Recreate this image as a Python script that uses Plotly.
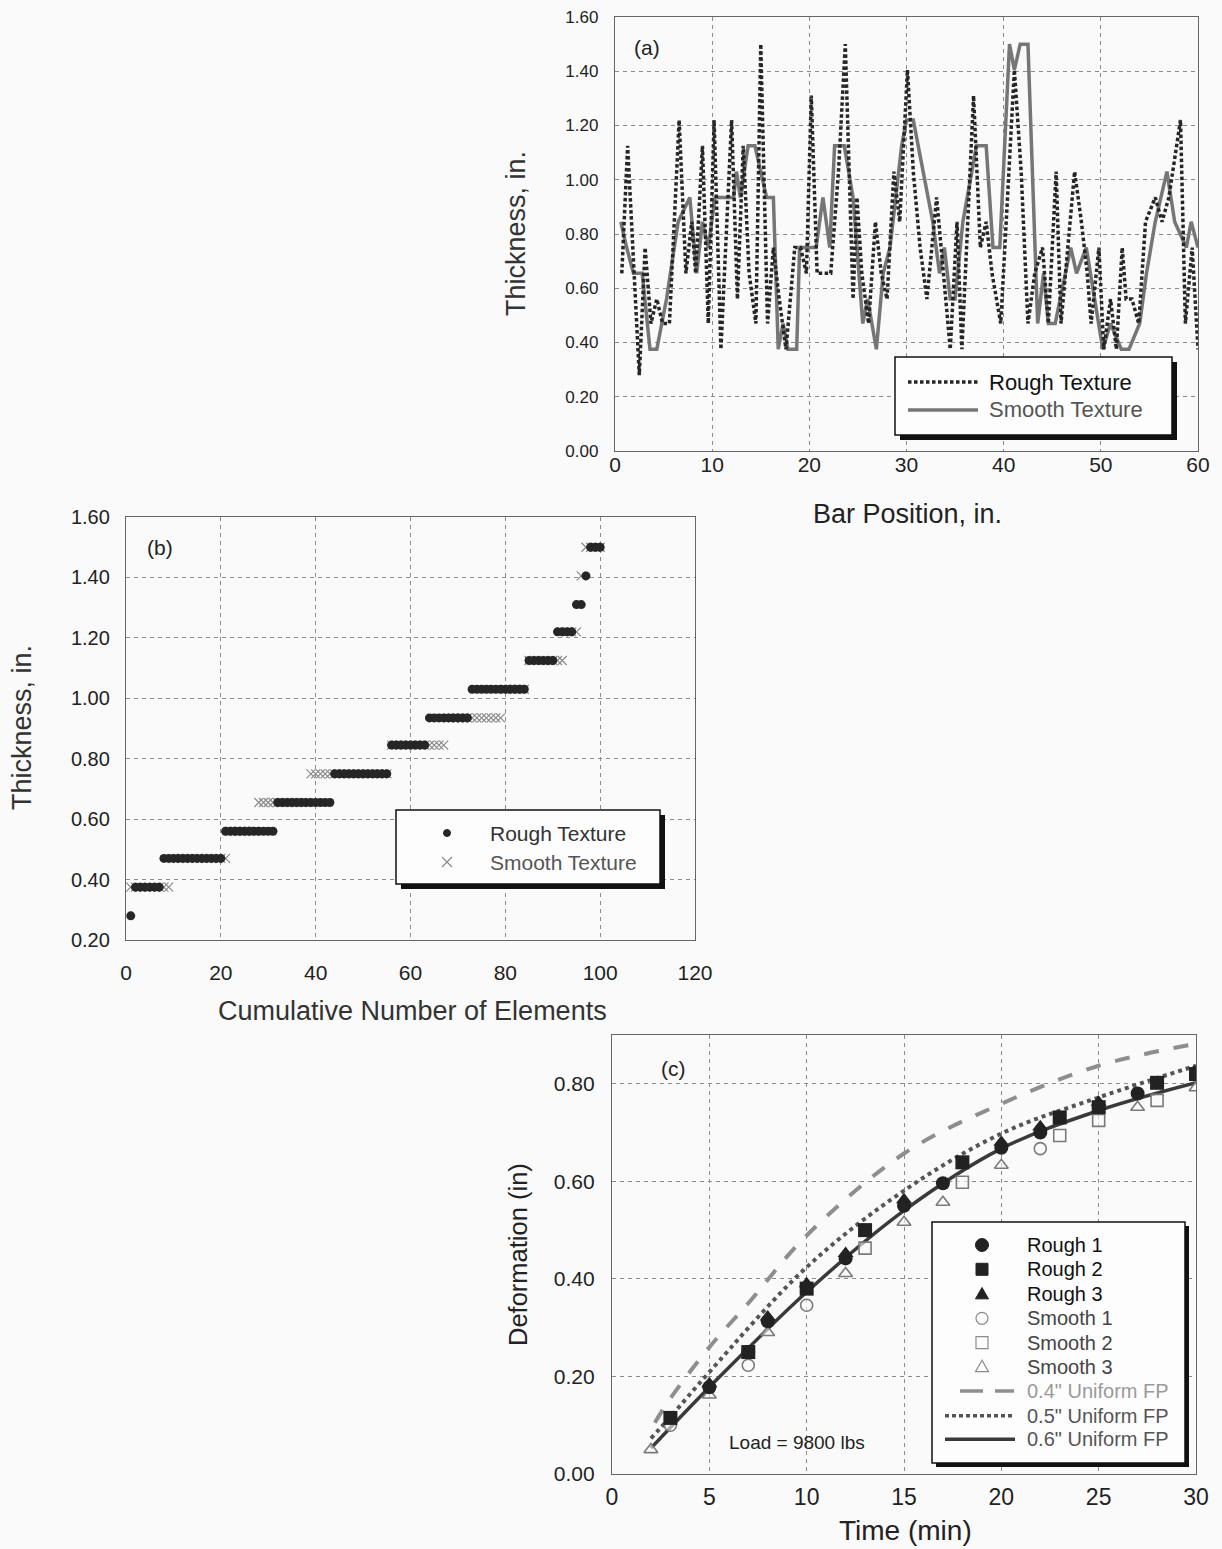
import plotly.graph_objects as go

W, H = 1222, 1549
FONT = "Liberation Sans, Arial, sans-serif"

# ---------------- (a) thickness along the bar ----------------
rough_pos = [0.7, 1.3, 2.5, 3.1, 3.7, 4.3, 4.9, 5.6, 6.6, 7.3, 7.9, 8.3, 9.0, 9.6, 10.2, 10.9,
             12.0, 12.6, 13.2, 13.8, 14.5, 15.0, 15.7, 16.3, 16.9, 17.6, 18.5, 19.1, 19.7, 20.2,
             20.8, 22.2, 23.0, 23.7, 24.5, 24.9, 25.4, 26.1, 26.8, 27.4, 28.0, 28.7, 29.3, 30.1,
             30.7, 31.4, 32.1, 33.1, 33.8, 34.5, 35.2, 35.7, 36.9, 37.6, 38.2, 38.8, 39.7, 40.4,
             41.1, 41.8, 42.5, 43.2, 44.0, 44.6, 45.4, 45.9, 46.6, 47.3, 48.0, 48.6, 49.0, 49.8,
             50.3, 51.0, 51.6, 52.2, 52.6, 53.2, 53.9, 54.6, 55.6, 56.3, 57.0, 58.2, 58.7, 59.4, 60.0]
rough_thk = [0.655, 1.125, 0.28, 0.75, 0.47, 0.56, 0.47, 0.47, 1.22, 0.655, 0.845, 0.655, 1.125,
             0.47, 1.22, 0.375, 1.22, 0.56, 1.125, 0.655, 0.47, 1.50, 0.47, 0.75, 0.56, 0.375,
             0.75, 0.75, 0.655, 1.31, 0.655, 0.655, 1.03, 1.50, 0.56, 0.935, 0.655, 0.47, 0.845,
             0.655, 0.56, 1.03, 0.845, 1.405, 1.03, 0.75, 0.56, 0.935, 0.655, 0.375, 0.845, 0.375,
             1.31, 0.75, 0.845, 0.655, 0.47, 0.935, 1.405, 1.03, 0.47, 0.655, 0.75, 0.47, 1.03,
             0.47, 0.75, 1.03, 0.845, 0.655, 0.47, 0.75, 0.375, 0.56, 0.375, 0.75, 0.56, 0.56,
             0.47, 0.845, 0.935, 0.845, 0.935, 1.22, 0.47, 0.75, 0.375]

smooth_pos = [0.6, 1.2, 1.9, 2.8, 3.6, 4.3, 5.3, 6.5, 7.7, 8.4, 9.0, 9.6, 10.3, 12.2, 12.5, 12.9,
              13.7, 14.4, 15.6, 16.3, 16.8, 17.3, 17.8, 18.7, 19.0, 20.7, 21.4, 22.1, 22.6, 23.6,
              24.5, 25.5, 26.0, 26.9, 27.6, 28.3, 29.5, 30.0, 30.7, 31.7, 32.7, 33.4, 33.9, 34.5,
              35.0, 35.8, 37.2, 38.2, 38.9, 39.6, 40.6, 41.1, 41.7, 42.5, 43.5, 44.1, 44.6, 45.3,
              46.3, 46.9, 47.5, 48.5, 50.2, 51.0, 52.1, 52.9, 54.0, 54.7, 55.6, 56.8, 57.6, 58.8,
              59.3, 60.0]
smooth_thk = [0.845, 0.75, 0.655, 0.655, 0.375, 0.375, 0.56, 0.845, 0.935, 0.655, 0.845, 0.75,
              0.935, 0.935, 1.03, 0.935, 1.125, 1.125, 0.935, 0.935, 0.375, 0.47, 0.375, 0.375,
              0.75, 0.75, 0.935, 0.75, 1.125, 1.125, 0.935, 0.47, 0.56, 0.375, 0.655, 0.75, 1.125,
              1.22, 1.22, 1.03, 0.845, 0.655, 0.75, 0.56, 0.56, 0.845, 1.125, 1.125, 0.75, 0.75,
              1.50, 1.405, 1.50, 1.50, 0.47, 0.655, 0.47, 0.47, 0.655, 0.75, 0.655, 0.75, 0.375,
              0.47, 0.375, 0.375, 0.47, 0.655, 0.845, 1.03, 0.845, 0.75, 0.845, 0.75]

# ---------------- (b) sorted element thickness ----------------
levels = [0.28, 0.375, 0.47, 0.56, 0.655, 0.75, 0.845, 0.935, 1.03, 1.125, 1.22, 1.31, 1.405, 1.50]
rough_counts = [1, 6, 13, 11, 12, 12, 8, 9, 12, 6, 4, 2, 1, 3]
smooth_counts = [0, 9, 12, 6, 11, 17, 12, 12, 5, 8, 3, 0, 1, 4]

# ---------------- (c) deformation vs time ----------------
rough1_t = [5, 7, 8, 12, 15, 17, 20, 22, 27, 30]
rough1_d = [0.178, 0.25, 0.313, 0.442, 0.55, 0.596, 0.669, 0.70, 0.78, 0.823]
rough2_t = [3, 7, 10, 13, 18, 23, 25, 28, 30]
rough2_d = [0.115, 0.25, 0.38, 0.50, 0.639, 0.731, 0.752, 0.802, 0.82]
rough3_t = [5, 8, 10, 12, 15, 20, 22, 25]
rough3_d = [0.185, 0.322, 0.39, 0.452, 0.562, 0.68, 0.712, 0.762]
smooth1_t = [3, 7, 10, 22]
smooth1_d = [0.10, 0.223, 0.346, 0.667]
smooth2_t = [13, 18, 23, 25, 28]
smooth2_d = [0.463, 0.598, 0.694, 0.725, 0.766]
smooth3_t = [2, 5, 8, 12, 15, 17, 20, 27, 30]
smooth3_d = [0.05, 0.162, 0.29, 0.411, 0.516, 0.557, 0.633, 0.752, 0.792]

fp04_t = [2.2, 3, 5, 7, 10, 15, 20, 25, 30]
fp04_d = [0.105, 0.155, 0.26, 0.35, 0.489, 0.657, 0.759, 0.837, 0.882]
fp05_t = [2, 3, 5, 10, 15, 20, 25, 30]
fp05_d = [0.073, 0.117, 0.209, 0.424, 0.581, 0.698, 0.772, 0.837]
fp06_t = [2, 5, 10, 15, 20, 25, 30]
fp06_d = [0.053, 0.178, 0.373, 0.540, 0.667, 0.745, 0.802]


def fx(px):
    return px / W


def fy(py):
    return 1 - py / H


def expand(counts):
    vals = []
    for lvl, n in zip(levels, counts):
        vals += [lvl] * n
    return list(range(1, len(vals) + 1)), vals


DARK = "#262626"
GRAY = "#767676"
OPEN = "#7a7a7a"

fig = go.Figure()

# panel (a)
fig.add_trace(go.Scatter(x=smooth_pos, y=smooth_thk, mode="lines", xaxis="x", yaxis="y",
                         line=dict(color=GRAY, width=3.5)))
fig.add_trace(go.Scatter(x=rough_pos, y=rough_thk, mode="lines", xaxis="x", yaxis="y",
                         line=dict(color=DARK, width=3.5, dash="3.5px,2.5px")))

# panel (b)
sx, sy = expand(smooth_counts)
rx, ry = expand(rough_counts)
fig.add_trace(go.Scatter(x=sx, y=sy, mode="markers", xaxis="x2", yaxis="y2",
                         marker=dict(symbol="x-thin", size=9, line=dict(color="#8a8a8a", width=1.2))))
fig.add_trace(go.Scatter(x=rx, y=ry, mode="markers", xaxis="x2", yaxis="y2",
                         marker=dict(symbol="circle", size=9, color=DARK)))

# panel (c) model curves
fig.add_trace(go.Scatter(x=fp04_t, y=fp04_d, mode="lines", line_shape="spline", xaxis="x3", yaxis="y3",
                         line=dict(color="#8e8e8e", width=4, dash="15px,15px")))
fig.add_trace(go.Scatter(x=fp05_t, y=fp05_d, mode="lines", line_shape="spline", xaxis="x3", yaxis="y3",
                         line=dict(color="#555555", width=4, dash="4px,4px")))
fig.add_trace(go.Scatter(x=fp06_t, y=fp06_d, mode="lines", line_shape="spline", xaxis="x3", yaxis="y3",
                         line=dict(color="#3a3a3a", width=3.5)))

open_style = dict(color="rgba(250,250,250,0.6)", size=12, line=dict(color=OPEN, width=1.6))
for t, d, sym in [(smooth1_t, smooth1_d, "circle"),
                  (smooth2_t, smooth2_d, "square"),
                  (smooth3_t, smooth3_d, "triangle-up")]:
    fig.add_trace(go.Scatter(x=t, y=d, mode="markers", xaxis="x3", yaxis="y3",
                             marker=dict(symbol=sym, **open_style)))
for t, d, sym in [(rough1_t, rough1_d, "circle"),
                  (rough2_t, rough2_d, "square"),
                  (rough3_t, rough3_d, "triangle-up")]:
    fig.add_trace(go.Scatter(x=t, y=d, mode="markers", xaxis="x3", yaxis="y3",
                             marker=dict(symbol=sym, size=14, color="#222222")))

for tr in fig.data:
    tr.showlegend = False
    tr.hoverinfo = "skip"


def axis(dom, rng, dtick, size, standoff, fmt=None, tickvals=None):
    d = dict(domain=dom, range=rng, dtick=dtick, showgrid=True, gridcolor="#8c8c8c",
             griddash="4px,4px", gridwidth=1, zeroline=False, showline=True, mirror=True,
             linecolor="#666666", linewidth=1.3, ticks="", ticklabelstandoff=standoff,
             automargin=False,
             tickfont=dict(family=FONT, size=size, color="#222222"), fixedrange=True)
    if fmt:
        d["tickformat"] = fmt
    if tickvals is not None:
        d["tickvals"] = tickvals
        d.pop("dtick")
    return d


layout = dict(
    template="none",
    width=W, height=H, autosize=False, margin=dict(l=0, r=0, t=0, b=0, pad=0),
    paper_bgcolor="#fafafa", plot_bgcolor="#fafafa", showlegend=False,
    xaxis=axis([fx(615), fx(1198)], [0, 60], 10, 21, -5),
    yaxis=axis([fy(451), fy(17)], [0, 1.6], 0.2, 17, 12, ".2f"),
    xaxis2=axis([fx(126), fx(695)], [0, 120], 20, 21, 14),
    yaxis2=axis([fy(940), fy(517)], [0.2, 1.6], 0.2, 20, 11, ".2f"),
    xaxis3=axis([fx(612), fx(1196)], [0, 30], 5, 23, 2),
    yaxis3=axis([fy(1474), fy(1035)], [0, 0.9], None, 21, 12, ".2f", [0, 0.2, 0.4, 0.6, 0.8]),
)
layout["xaxis"]["anchor"] = "y"
layout["yaxis"]["anchor"] = "x"
layout["xaxis2"]["anchor"] = "y2"
layout["yaxis2"]["anchor"] = "x2"
layout["xaxis3"]["anchor"] = "y3"
layout["yaxis3"]["anchor"] = "x3"
fig.update_layout(**layout)

shapes = []
annotations = []


def text(x, y, s, size, color="#222222", xanchor="center", angle=0):
    annotations.append(dict(x=fx(x), y=fy(y), xref="paper", yref="paper", text=s, showarrow=False,
                            xanchor=xanchor, yanchor="middle", textangle=angle,
                            font=dict(family=FONT, size=size, color=color)))


def box(x0, y0, x1, y1, off=5):
    shapes.append(dict(type="rect", xref="paper", yref="paper", x0=fx(x0 + off), x1=fx(x1 + off),
                       y0=fy(y1 + off), y1=fy(y0 + off), fillcolor="#111111", line=dict(width=0),
                       layer="above"))
    shapes.append(dict(type="rect", xref="paper", yref="paper", x0=fx(x0), x1=fx(x1),
                       y0=fy(y1), y1=fy(y0), fillcolor="#fdfdfd",
                       line=dict(color="#111111", width=1.5), layer="above"))


def seg(x0, x1, y, color, width, dash="solid"):
    shapes.append(dict(type="line", xref="paper", yref="paper", x0=fx(x0), x1=fx(x1), y0=fy(y), y1=fy(y),
                       line=dict(color=color, width=width, dash=dash), layer="above"))


def circ(cx, cy, r, fill, edge, lw=1):
    shapes.append(dict(type="circle", xref="paper", yref="paper", x0=fx(cx - r), x1=fx(cx + r),
                       y0=fy(cy + r), y1=fy(cy - r), fillcolor=fill,
                       line=dict(color=edge, width=lw), layer="above"))


def square(cx, cy, r, fill, edge, lw=1):
    shapes.append(dict(type="rect", xref="paper", yref="paper", x0=fx(cx - r), x1=fx(cx + r),
                       y0=fy(cy + r), y1=fy(cy - r), fillcolor=fill,
                       line=dict(color=edge, width=lw), layer="above"))


def tri(cx, cy, r, fill, edge, lw=1):
    path = "M {:.5f},{:.5f} L {:.5f},{:.5f} L {:.5f},{:.5f} Z".format(
        fx(cx - r), fy(cy + r * 0.75), fx(cx + r), fy(cy + r * 0.75), fx(cx), fy(cy - r))
    shapes.append(dict(type="path", xref="paper", yref="paper", path=path, fillcolor=fill,
                       line=dict(color=edge, width=lw), layer="above"))


def cross(cx, cy, r, color):
    for s in (1, -1):
        shapes.append(dict(type="line", xref="paper", yref="paper", x0=fx(cx - r), x1=fx(cx + r),
                           y0=fy(cy - s * r), y1=fy(cy + s * r),
                           line=dict(color=color, width=1.2), layer="above"))


# legend (a)
box(895, 357, 1172, 435)
seg(908, 978, 382, DARK, 3.5, "3.5px,2.5px")
seg(908, 978, 410, GRAY, 3.5)
text(987, 382, "Rough Texture", 22, "#111111", "left")
text(987, 410, "Smooth Texture", 22, "#555555", "left")

# legend (b)
box(396, 810, 660, 884)
circ(447, 833, 3.5, DARK, DARK)
cross(447, 862, 5, "#8a8a8a")
text(488, 833, "Rough Texture", 21, "#333333", "left")
text(488, 862, "Smooth Texture", 21, "#555555", "left")

# legend (c)
box(932, 1222, 1185, 1463, 4)
rows = [1245, 1269.3, 1294, 1318.3, 1342.7, 1366.7, 1391, 1415.7, 1439.3]
circ(982, rows[0], 6.5, "#222222", "#222222")
square(982, rows[1], 6, "#222222", "#222222")
tri(982, rows[2], 6.5, "#222222", "#222222")
circ(982, rows[3], 6, "rgba(0,0,0,0)", "#8c8c8c", 1.2)
square(982, rows[4], 6, "rgba(0,0,0,0)", "#8c8c8c", 1.2)
tri(982, rows[5], 6.5, "rgba(0,0,0,0)", "#8c8c8c", 1.2)
seg(960, 1014, rows[6], "#8e8e8e", 3.5, "23px,12px")
seg(945, 1015, rows[7], "#555555", 3.5, "4px,3px")
seg(945, 1015, rows[8], "#3a3a3a", 3.5)
labels_c = ["Rough 1", "Rough 2", "Rough 3", "Smooth 1", "Smooth 2", "Smooth 3",
            "0.4\" Uniform FP", "0.5\" Uniform FP", "0.6\" Uniform FP"]
colors_c = ["#111111"] * 3 + ["#444444"] * 3 + ["#9a9a9a", "#555555", "#555555"]
for lab, col, yy in zip(labels_c, colors_c, rows):
    text(1025, yy, lab, 20, col, "left")

# panel labels and notes
text(647, 47, "(a)", 21, "#222222")
text(160, 547, "(b)", 21, "#222222")
text(673, 1068, "(c)", 21, "#222222")
text(727, 1442, "Load = 9800 lbs", 19, "#222222", "left")

# axis titles
text(516, 234, "Thickness, in.", 27, "#333333", angle=-90)
text(907, 514, "Bar Position, in.", 27, "#222222")
text(22, 728, "Thickness, in.", 27, "#333333", angle=-90)
text(412, 1011, "Cumulative Number of Elements", 27, "#333333")
text(518, 1255, "Deformation (in)", 25.5, "#222222", angle=-90)
text(905, 1530, "Time (min)", 28, "#222222")

fig.update_layout(shapes=shapes, annotations=annotations)
fig.write_html("out.html")
